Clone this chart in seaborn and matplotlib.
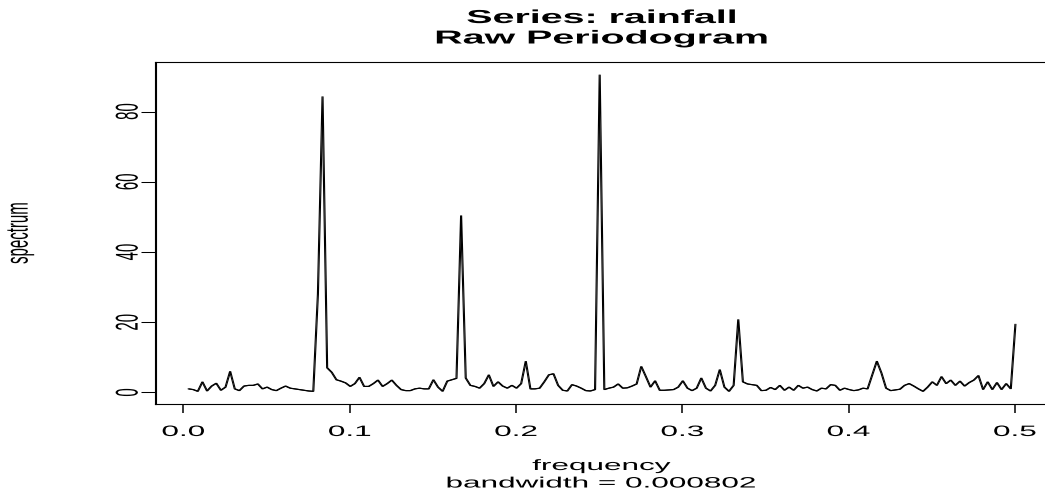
import matplotlib
matplotlib.use("Agg")
import matplotlib.pyplot as plt
import matplotlib.patheffects as pe
from matplotlib.patheffects import AbstractPathEffect
from matplotlib.transforms import Affine2D
import numpy as np
import pandas as pd
import seaborn as sns

# ---- periodogram of the monthly rainfall series (padded length 360) ----
SERIES_NAME = "rainfall"
N_PADDED = 360
BANDWIDTH = 0.000802

# raw periodogram ordinates at Fourier frequencies k/360, k = 1..180
spectrum = [
    1.0, 0.8, 0.3, 3.0, 0.4, 1.8, 2.6, 0.6, 1.5, 6.0,
    1.0, 0.5, 1.8, 2.0, 2.0, 2.4, 1.0, 1.5, 0.8, 0.5,
    1.2, 1.8, 1.2, 1.0, 0.8, 0.6, 0.4, 0.3, 28.0, 84.3,
    7.0, 5.7, 3.6, 3.2, 2.7, 1.7, 2.5, 4.3, 1.7, 1.7,
    2.5, 3.5, 1.7, 2.5, 3.5, 2.0, 0.8, 0.5, 0.5, 1.0,
    1.2, 1.0, 1.0, 3.6, 1.5, 0.3, 3.2, 3.6, 4.0, 50.4,
    4.1, 2.0, 1.7, 1.2, 2.5, 5.0, 1.7, 3.0, 1.8, 1.2,
    2.0, 1.2, 2.5, 8.9, 1.0, 1.0, 1.2, 3.0, 5.0, 5.3,
    2.0, 0.6, 0.4, 2.2, 1.8, 1.2, 0.5, 0.4, 0.8, 90.5,
    0.8, 1.2, 1.5, 2.4, 1.2, 1.3, 1.8, 2.4, 7.4, 4.5,
    1.5, 3.3, 0.6, 0.6, 0.7, 0.8, 1.5, 3.3, 1.2, 0.5,
    1.2, 4.1, 1.2, 0.4, 2.0, 6.5, 1.5, 0.3, 2.0, 20.8,
    3.0, 2.4, 2.2, 2.0, 0.5, 0.6, 1.4, 0.8, 2.0, 0.6,
    1.5, 0.6, 2.0, 1.2, 1.5, 0.8, 0.4, 1.2, 1.0, 2.2,
    2.0, 0.6, 1.2, 0.8, 0.5, 0.7, 1.2, 1.0, 5.0, 8.9,
    5.5, 1.2, 0.5, 0.7, 0.9, 2.0, 2.5, 1.8, 1.0, 0.3,
    1.5, 3.0, 2.0, 4.5, 2.5, 3.5, 2.0, 3.2, 1.8, 2.8,
    3.5, 4.8, 0.8, 3.0, 0.8, 2.8, 0.8, 2.5, 1.0, 19.4,
]
frequency = np.arange(1, len(spectrum) + 1) / N_PADDED

x_ticks = [0.0, 0.1, 0.2, 0.3, 0.4, 0.5]
x_tick_labels = ["0.0", "0.1", "0.2", "0.3", "0.4", "0.5"]
y_ticks = [0, 20, 40, 60, 80]
y_tick_labels = ["0", "20", "40", "60", "80"]

title_lines = [f"Series: {SERIES_NAME}", "Raw Periodogram"]
x_label = "frequency"
sub_label = f"bandwidth = {BANDWIDTH:.6f}"
y_label = "spectrum"

# ---- figure geometry (pixels) ----
W, H, DPI = 1045, 498, 100
LEFT, RIGHT, TOP, BOTTOM = 155, 1048, 62, 404
SX = 2.1            # horizontal widening of lettering
AXIS_FS = 10.8      # pt
TITLE_FS = 13.5     # pt
ONE_PX = 72.0 / DPI


class HStretch(AbstractPathEffect):
    """Widen glyphs horizontally about their own centre."""

    def __init__(self, sx):
        super().__init__()
        self.sx = sx

    def draw_path(self, renderer, gc, tpath, affine, rgbFace=None):
        ext = tpath.get_extents(affine)
        cx = 0.5 * (ext.x0 + ext.x1)
        widen = Affine2D().translate(-cx, 0).scale(self.sx, 1).translate(cx, 0)
        renderer.draw_path(gc, tpath, affine + widen, rgbFace)


wide = [HStretch(SX)]
thick_vertical = [pe.Stroke(offset=(ONE_PX, 0)), pe.Normal()]

sns.set_theme(style="white")
plt.rcParams["font.family"] = ["Liberation Sans", "DejaVu Sans"]

fig = plt.figure(figsize=(W / DPI, H / DPI), dpi=DPI)
fig.patch.set_facecolor("white")
ax = fig.add_axes([LEFT / W, 1 - BOTTOM / H, (RIGHT - LEFT) / W, (BOTTOM - TOP) / H])

df = pd.DataFrame({"frequency": frequency, "spectrum": spectrum})
sns.lineplot(data=df, x="frequency", y="spectrum", ax=ax, color="black",
             linewidth=0.8, estimator=None)
for ln in ax.get_lines():
    ln.set_path_effects(thick_vertical)
    ln.set_solid_joinstyle("miter")

# R-style 4% range extension
fmin, fmax = frequency.min(), frequency.max()
smin, smax = min(spectrum), max(spectrum)
ax.set_xlim(fmin - 0.04 * (fmax - fmin), fmax + 0.04 * (fmax - fmin))
ax.set_ylim(smin - 0.04 * (smax - smin), smax + 0.04 * (smax - smin))

ax.set_xticks(x_ticks, labels=x_tick_labels)
ax.set_yticks(y_ticks, labels=y_tick_labels)
ax.tick_params(axis="x", direction="out", length=6.5, width=1.1, pad=8.6,
               labelsize=AXIS_FS, colors="black", bottom=True)
ax.tick_params(axis="y", direction="out", length=10.0, width=0.75, pad=9.5,
               labelsize=AXIS_FS, colors="black", left=True)
for lbl in ax.get_xticklabels():
    lbl.set_path_effects(wide)
for lbl in ax.get_yticklabels():
    lbl.set_rotation(90)
    lbl.set_horizontalalignment("center")
    lbl.set_verticalalignment("center")
    lbl.set_path_effects(wide)

ax.set_xlabel("")
ax.set_ylabel("")
ax.grid(False)
for name, sp in ax.spines.items():
    sp.set_visible(True)
    sp.set_color("black")
    sp.set_linewidth(0.8)
ax.spines["left"].set_path_effects(thick_vertical)


def put(x, y, s, **kw):
    t = fig.text(x / W, 1 - y / H, s, ha="center", va="center", color="black", **kw)
    t.set_path_effects(wide)
    return t


cx = 0.5 * (LEFT + RIGHT)
put(cx, 18.5, title_lines[0], fontsize=TITLE_FS, fontweight="bold")
put(cx, 39.0, title_lines[1], fontsize=TITLE_FS, fontweight="bold")
put(cx, 466.0, x_label, fontsize=AXIS_FS)
put(cx, 483.5, sub_label, fontsize=AXIS_FS)
put(20.0, 0.5 * (TOP + BOTTOM), y_label, fontsize=AXIS_FS, rotation=90)

fig.savefig("out.png", dpi=DPI, facecolor="white")
